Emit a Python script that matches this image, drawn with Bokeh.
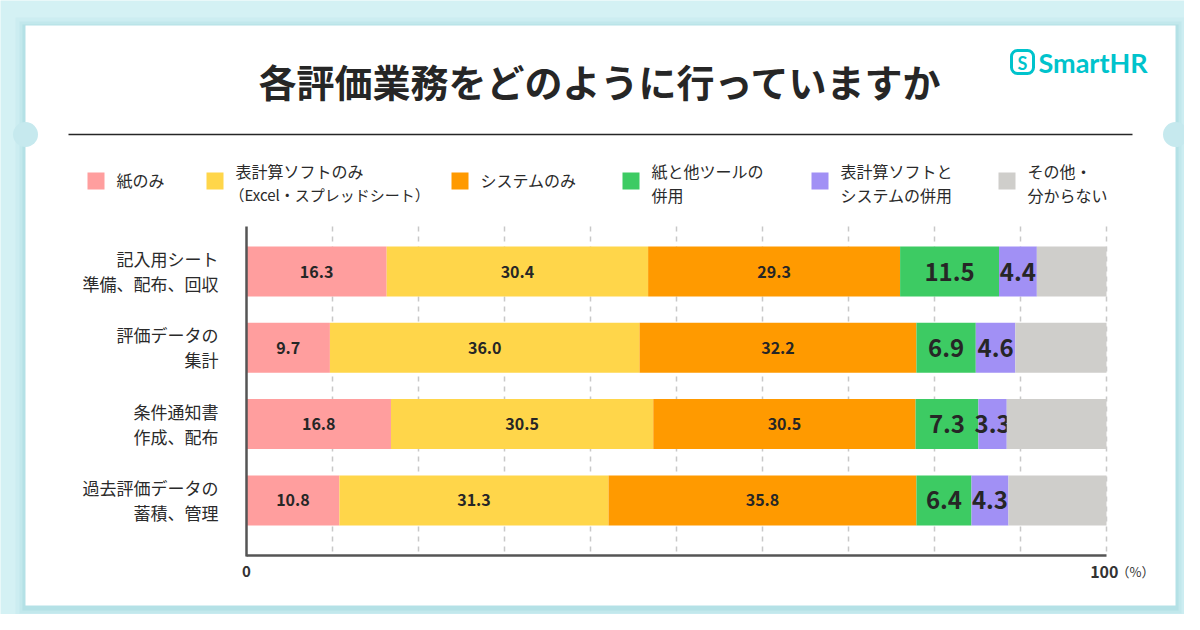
from bokeh.plotting import figure
from bokeh.models import Range1d
from bokeh.core.properties import value
from bokeh.embed import file_html
from bokeh.resources import INLINE

# ---------------- data ----------------
title = "各評価業務をどのように行っていますか"
categories = [
    ["記入用シート", "準備、配布、回収"],
    ["評価データの", "集計"],
    ["条件通知書", "作成、配布"],
    ["過去評価データの", "蓄積、管理"],
]
series_labels = [
    ["紙のみ"],
    ["表計算ソフトのみ", "（Excel・スプレッドシート）"],
    ["システムのみ"],
    ["紙と他ツールの", "併用"],
    ["表計算ソフトと", "システムの併用"],
    ["その他・", "分からない"],
]
paper_only = [16.3, 9.7, 16.8, 10.8]
sheet_only = [30.4, 36.0, 30.5, 31.3]
system_only = [29.3, 32.2, 30.5, 35.8]
paper_tools = [11.5, 6.9, 7.3, 6.4]
sheet_system = [4.4, 4.6, 3.3, 4.3]
other = [8.1, 10.6, 11.6, 11.4]
series_values = [paper_only, sheet_only, system_only, paper_tools, sheet_system, other]
series_colors = ["#FF9E9E", "#FFD64A", "#FF9A00", "#3DCB63", "#A190F5", "#CFCECB"]
label_sizes = ["16px", "16px", "16px", "24px", "24px", None]
grid_ticks = [10, 20, 30, 40, 50, 60, 70, 80, 90, 100]
tick_labels = [(0, "0"), (100, "100")]

FONT = value("Noto Sans CJK JP")
W, H = 1184, 614
PX0, PX100 = 246, 1106          # figure-pixel positions of 0% and 100%
scale = (PX100 - PX0) / 100.0
BG = "#D4F1F4"
TEAL = "#00C3CC"
DARK = "#262626"

p = figure(width=W, height=H, output_backend="svg", toolbar_location=None,
           x_range=Range1d(-PX0 / scale, (W - PX0) / scale),
           y_range=Range1d(H, 0), min_border=0)
p.extra_x_ranges = {"px": Range1d(0, W)}
p.axis.visible = False
p.grid.visible = False
p.outline_line_color = None
p.background_fill_color = BG
p.border_fill_color = BG

# ---------------- card ----------------
for pad, alpha in [(10, 0.10), (6, 0.16), (3, 0.25)]:
    p.quad(left=25 - pad, right=1175 + pad, top=25 - pad + 2, bottom=605 + pad + 2,
           x_range_name="px", fill_color="#8CCBD3", fill_alpha=alpha, line_color=None)
p.quad(left=25, right=1175, top=25, bottom=605, x_range_name="px",
       fill_color="white", line_color=None)
p.circle(x=[25, 1175], y=[134, 134], radius=12.5, x_range_name="px",
         fill_color="#C6E9EE", line_color=None)

# ---------------- title & logo ----------------
p.text(x=[600], y=[80], text=[title], x_range_name="px", text_font=FONT,
       text_font_size=value("38px"), text_font_style="bold", text_color=DARK,
       text_align="center", text_baseline="middle")
p.segment(x0=[68], x1=[1132], y0=[134], y1=[134], x_range_name="px",
          line_color=DARK, line_width=1.5)
p.quad(left=[1011], right=[1033], top=[50], bottom=[73], x_range_name="px",
       fill_color=None, line_color=TEAL, line_width=3, border_radius=6)
p.text(x=[1022], y=[62], text=["S"], x_range_name="px", text_font=value("Lato"),
       text_font_size=value("18px"), text_font_style="bold", text_color=TEAL,
       text_align="center", text_baseline="middle")
p.text(x=[1038], y=[62], text=["SmartHR"], x_range_name="px", text_font=value("Lato"),
       text_font_size=value("27px"), text_font_style="bold", text_color=TEAL,
       text_align="left", text_baseline="middle")

# ---------------- legend ----------------
sw_x = [87, 206, 451, 622, 811, 998]
for i, lines in enumerate(series_labels):
    p.quad(left=[sw_x[i]], right=[sw_x[i] + 17], top=[172], bottom=[189],
           x_range_name="px", fill_color=series_colors[i], line_color=None)
    ys = [179] if len(lines) == 1 else [170, 194]
    for j, (ln, yy) in enumerate(zip(lines, ys)):
        xx = sw_x[i] + 29
        fs = "16px"
        if ln.startswith("（"):
            xx -= 6
            fs = "15px"
        p.text(x=[xx], y=[yy], text=[ln], x_range_name="px", text_font=FONT,
               text_font_size=value(fs), text_font_style="normal", text_color="#2A2A2A",
               text_align="left", text_baseline="middle")

# ---------------- bars ----------------
row_y = [271 + i * 76.3 for i in range(len(categories))]
axis_top, axis_bottom = 226, 555

p.segment(x0=grid_ticks, x1=grid_ticks, y0=[axis_top] * len(grid_ticks),
          y1=[axis_bottom] * len(grid_ticks), line_color="#C8C8C8", line_width=1.5,
          line_dash="5 5")

left = [0.0] * len(categories)
for k, vals in enumerate(series_values):
    right = [l + v for l, v in zip(left, vals)]
    p.hbar(y=row_y, left=left, right=right, height=50, fill_color=series_colors[k],
           line_color=None)
    if label_sizes[k]:
        mids = [(l + r) / 2 for l, r in zip(left, right)]
        p.text(x=mids, y=row_y, text=[f"{v:.1f}" for v in vals], text_font=FONT,
               text_font_size=value(label_sizes[k]), text_font_style="bold",
               text_color=DARK, text_align="center", text_baseline="middle")
    left = right

# axes lines
p.segment(x0=[0], x1=[0], y0=[axis_top], y1=[axis_bottom + 1], line_color="#555555", line_width=2.5)
p.segment(x0=[0], x1=[100], y0=[axis_bottom], y1=[axis_bottom], line_color="#555555", line_width=2.5)

# category labels
for i, lines in enumerate(categories):
    for j, ln in enumerate(lines):
        p.text(x=[218], y=[row_y[i] - 13 + j * 25], text=[ln], x_range_name="px",
               text_font=FONT, text_font_size=value("17px"), text_font_style="normal",
               text_color="#2A2A2A", text_align="right", text_baseline="middle")

# tick labels
for v, lab in tick_labels:
    if v == 0:
        p.text(x=[v], y=[571], text=[lab], text_font=FONT, text_font_size=value("15px"),
               text_font_style="bold", text_color="#333333", text_align="center",
               text_baseline="middle")
    else:
        p.text(x=[v + 12 / scale], y=[571], text=[lab], text_font=FONT,
               text_font_size=value("16px"), text_font_style="bold", text_color="#333333",
               text_align="right", text_baseline="middle")
        p.text(x=[v + 10 / scale], y=[571], text=["（%）"], text_font=FONT,
               text_font_size=value("13px"), text_color="#333333", text_align="left",
               text_baseline="middle")

open("out.html", "w").write(file_html(p, INLINE))
